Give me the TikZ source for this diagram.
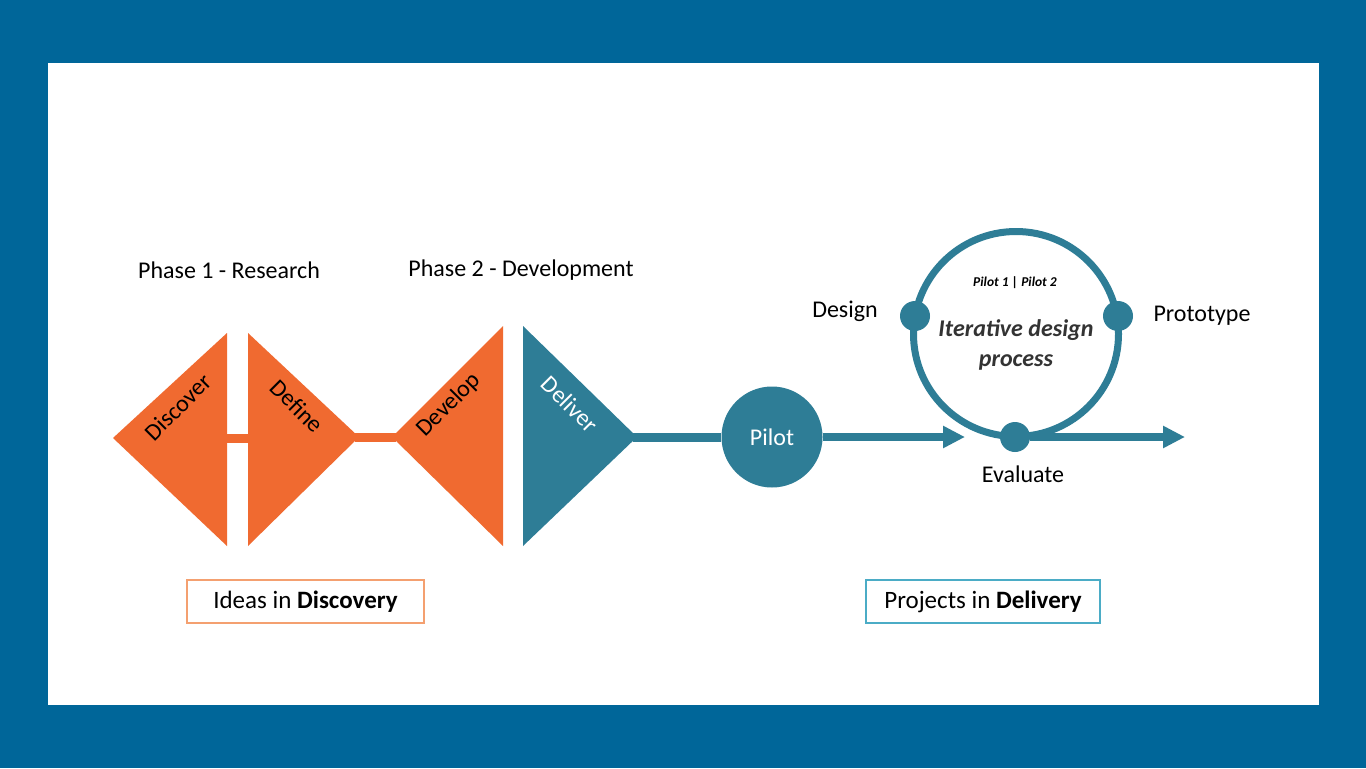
\documentclass[tikz,border=0pt]{standalone}
\usepackage{fontspec}
\setmainfont{Carlito}
\usetikzlibrary{arrows.meta}
\definecolor{frameblue}{HTML}{006699}
\definecolor{dorange}{HTML}{F06A30}
\definecolor{dteal}{HTML}{2E7D96}
\definecolor{boxorange}{HTML}{F4A070}
\definecolor{boxteal}{HTML}{4BACC6}
\definecolor{darktext}{HTML}{333333}
\tikzset{
  lbl/.style={font=\fontsize{24bp}{28bp}\selectfont, inner sep=0pt},
  bar/.style={line width=9bp},
  flow/.style={line width=8bp, draw=dteal, -{Triangle[length=22bp,width=21bp]}},
  dot/.style={circle, fill=dteal, minimum size=30bp, inner sep=0pt},
  tagbox/.style={draw, line width=1.2bp, minimum width=237bp, minimum height=43bp, inner sep=0pt, font=\fontsize{25bp}{29bp}\selectfont},
}
\begin{document}
\begin{tikzpicture}[x=1bp,y=-1bp]
\useasboundingbox (0,0) rectangle (1366,768);
\fill[frameblue] (0,0) rectangle (1366,768);
\fill[white] (48,63) rectangle (1319,705);

% triangles
\coordinate (discL) at (113,438);
\coordinate (discR) at (227,438);
\coordinate (defL) at (248,438);
\coordinate (defR) at (359,437);
\coordinate (devL) at (392,437);
\coordinate (devR) at (503,437);
\coordinate (delL) at (523,437);
\coordinate (delR) at (637,437);

\draw[bar, dorange] (discR) -- (defL);
\draw[bar, dorange] ([xshift=-4bp]defR) -- ([xshift=4bp]devL);

\fill[dorange] (discL) -- (227,333) -- (227,546) -- cycle;
\fill[dorange] (248,333) -- (defR) -- (248,546) -- cycle;
\fill[dorange] (devL) -- (503,326) -- (503,546) -- cycle;
\fill[dteal] (523,326) -- (delR) -- (523,546) -- cycle;

\node[lbl, rotate=45] (tdisc) at (178,407) {Discover};
\node[lbl, rotate=-45] (tdef) at (297,406) {Define};
\node[lbl, rotate=45] (tdev) at (449,405) {Develop};
\node[lbl, rotate=-45, text=white] (tdel) at (570,404) {Deliver};

\node[lbl] (ph1) at (229,270) {Phase 1 - Research};
\node[lbl] (ph2) at (521,270) {Phase 2 - Development};

% pilot
\node[circle, fill=dteal, minimum size=101bp, inner sep=0pt, text=white, lbl] (pilot) at (772,437) {Pilot};
\draw[bar, dteal] ([xshift=-4bp]delR) -- (pilot.west);
\coordinate (arr1) at (965,437);
\draw[flow] (pilot.east) -- (arr1);

% iterative loop
\node[circle, draw=dteal, line width=7bp, minimum size=205bp, inner sep=0pt] (loop) at (1016,334) {};
\node[dot] (design) at (915,316) {};
\node[dot] (proto) at (1118,316) {};
\node[dot] (eval) at (1015,437) {};
\coordinate (arr2) at (1185,437);
\draw[flow] (eval.east) -- (arr2);

\node[font=\fontsize{13.5bp}{16bp}\selectfont\bfseries\itshape, inner sep=0pt] (pilots) at (1015,283) {Pilot 1 | Pilot 2};
\node[font=\fontsize{24bp}{29.5bp}\selectfont\bfseries\itshape, text=darktext, align=center, inner sep=0pt] (iter) at (1016,345) {Iterative design\\process};

\node[lbl] (tdesign) at (845,311) {Design};
\node[lbl] (tproto) at (1202,316) {Prototype};
\node[lbl] (teval) at (1023,474) {Evaluate};

% boxes
\node[tagbox, draw=boxorange] (ideas) at (305.5,601.5) {Ideas in \textbf{Discovery}};
\node[tagbox, draw=boxteal, minimum width=234bp] (proj) at (983,601.5) {Projects in \textbf{Delivery}};
\end{tikzpicture}
\end{document}
